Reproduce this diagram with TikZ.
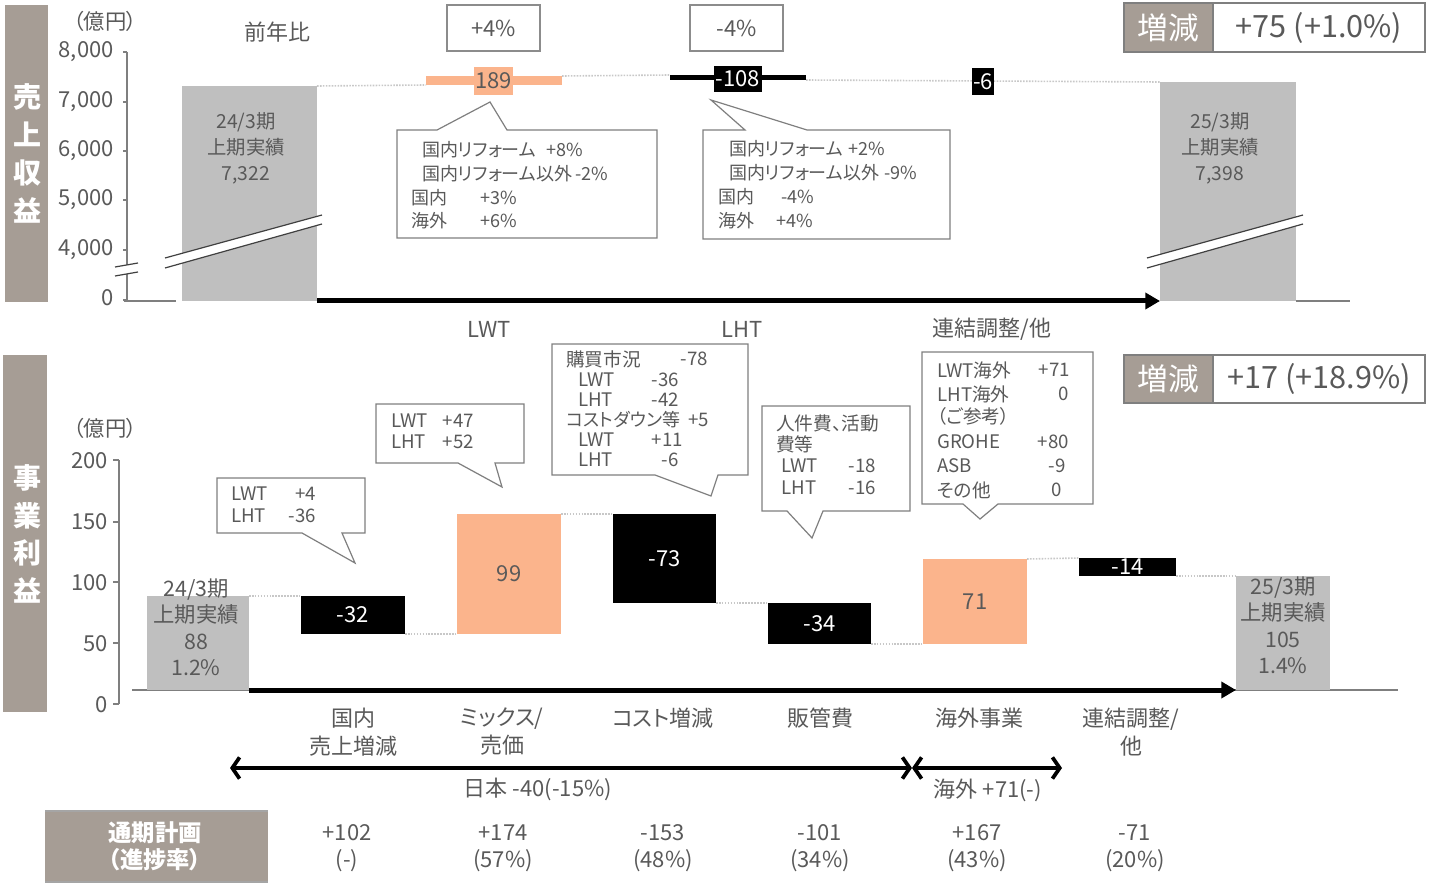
\documentclass[tikz,border=0pt]{standalone}
\usepackage{fontspec}
\setmainfont{Noto Sans CJK JP}[RawFeature={+palt}]
\usetikzlibrary{arrows.meta}
\definecolor{band}{HTML}{A69D95}
\definecolor{tg}{HTML}{595959}
\definecolor{salmon}{HTML}{FBB48C}
\definecolor{barg}{HTML}{BFBFBF}
\definecolor{lineg}{HTML}{7F7F7F}
\definecolor{dotg}{HTML}{C8C8C8}
\definecolor{brkc}{HTML}{404040}
\newcommand\fsz[1]{\fontsize{#1}{#1}\selectfont}
\tikzset{
  tx/.style={inner sep=0pt, text=tg, font=\fsz{16.5}},
  ct/.style={inner sep=0pt, text=tg, font=\fsz{13.5}, anchor=west},
  cb/.style={inner sep=0pt, text=tg, font=\fsz{14}},
  bx/.style n args={2}{minimum width={(#1)*0.75pt}, minimum height={(#2)*0.75pt}, inner sep=0pt, outer sep=0pt},
  bandtxt/.style={inner sep=0pt, text=white, align=center, font=\bfseries\fontsize{21}{28.3}\selectfont},
  axisl/.style={draw=lineg, line width=1.1pt},
  dotl/.style={draw=dotg, line width=1.2pt, densely dotted},
  brk/.style={draw=brkc, line width=0.9pt},
  call/.style={draw=lineg, fill=white, line width=0.9pt, line join=miter},
  bigarrow/.style={line width=3.75pt, -{Triangle[length=11pt,width=12pt]}},
  darrow/.style={line width=2.8pt, {Straight Barb[length=5.5pt,width=16pt]}-{Straight Barb[length=5.5pt,width=16pt]}},
  pbox/.style={draw=lineg!90, line width=1.2pt, bx={93}{46}, text=tg, font=\fsz{16.5}},
  barlbl/.style={inner sep=0pt, text=tg, align=center},
  val/.style={text=white, font=\fsz{16.5}},
}
\begin{document}
\begin{tikzpicture}[x=0.75pt,y=-0.75pt]
\useasboundingbox (0,0) rectangle (1435,884);

% ================= TOP PANEL =================
\fill[band] (5,5) rectangle (48,302);
\node[bandtxt] (bandA) at (27,153.5) {売\\上\\収\\益};
\node[tx, font=\fsz{16}] (unitA) at (105,21) {（億円）};
\node[tx] (yoy) at (277,32) {前年比};

% axis
\draw[axisl] (127,52) -- (127,301);
\foreach \yy in {52,102,151,200,250,300} \draw[axisl] (123,\yy) -- (127,\yy);
\node[tx, anchor=east] (ya8) at (114,52) {8,000};
\node[tx, anchor=east] (ya7) at (114,102) {7,000};
\node[tx, anchor=east] (ya6) at (114,151) {6,000};
\node[tx, anchor=east] (ya5) at (114,200) {5,000};
\node[tx, anchor=east] (ya4) at (114,250) {4,000};
\node[tx, anchor=east] (ya0) at (114,298) {0};
\draw[axisl] (124,301) -- (176,301);
\draw[axisl] (1296,301) -- (1350,301);
% axis break
\fill[white] (115,267) -- (138,263) -- (138,272) -- (115,276) -- cycle;
\draw[brk] (115,267) -- (138,263);
\draw[brk] (115,276) -- (138,272);

% bars
\node[bx={135}{215}, fill=barg] (t0) at (249.5,193.5) {};
\node[bx={136}{9}, fill=salmon] (t1) at (494,80.5) {};
\node[bx={136}{5}, fill=black] (t2) at (738,77.5) {};
\node[bx={136}{219}, fill=barg] (t4) at (1228,191.5) {};
\draw[dotl] (t0.north east) -- (t1.south west);
\draw[dotl] (t1.north east) -- (t2.north west);
\draw[dotl] (t2.south east) -- (t4.north west);
\node[bx={39}{28}, fill=salmon, text=tg, font=\fsz{16.5}] (t1l) at (493.5,81) {189};
\node[bx={48}{26}, fill=black, val] (t2l) at (738,79) {-108};
\node[bx={22}{27}, fill=black, val] (t3l) at (983,82) {-6};

\node[barlbl, font=\fontsize{14.5}{19.5}\selectfont] (t0l) at (246,148) {24/3期\\上期実績\\7,322};
\node[barlbl, font=\fontsize{14.5}{19.5}\selectfont] (t4l) at (1220,148) {25/3期\\上期実績\\7,398};

% break bands in bars
\fill[white] (165,258) -- (322,215) -- (322,224) -- (165,268) -- cycle;
\draw[brk] (165,258) -- (322,215);
\draw[brk] (165,268) -- (322,224);
\fill[white] (1147,258) -- (1303,215) -- (1303,224) -- (1147,268) -- cycle;
\draw[brk] (1147,258) -- (1303,215);
\draw[brk] (1147,268) -- (1303,224);

\draw[bigarrow] (t0.south east) -- (t4.south west);

% percent boxes
\node[pbox] (p1) at (493.5,28) {+4\%};
\node[pbox] (p2) at (736.5,28) {-4\%};

% increase box
\node[bx={89}{49}, fill=band, text=white, font=\fsz{23}] (zg1) at (1168.5,27.5) {増減};
\node[bx={212}{49}, draw=lineg, line width=0.9pt, text=tg, font=\fsz{23}] (zv1) at (1319,27.5) {+75 (+1.0\%)};
\draw[lineg, line width=0.9pt] (zg1.north west) rectangle (zv1.south east);

% callouts top
\draw[call] (397,130) -- (437,130) -- (490,102) -- (507,130) -- (657,130) -- (657,238) -- (397,238) -- cycle;
\node[ct] (c1a) at (422,150) {国内リフォーム};
\node[ct] (c1av) at (546,150) {+8\%};
\node[ct] (c1b) at (422,174) {国内リフォーム以外};
\node[ct] (c1bv) at (575,174) {-2\%};
\node[ct] (c1c) at (411,198) {国内};
\node[ct] (c1cv) at (480,198) {+3\%};
\node[ct] (c1d) at (411,221) {海外};
\node[ct] (c1dv) at (480,221) {+6\%};

\draw[call] (703,130) -- (745,130) -- (711,100) -- (807,130) -- (950,130) -- (950,239) -- (703,239) -- cycle;
\node[ct] (c2a) at (729,149) {国内リフォーム};
\node[ct] (c2av) at (848,149) {+2\%};
\node[ct] (c2b) at (729,173) {国内リフォーム以外};
\node[ct] (c2bv) at (884,173) {-9\%};
\node[ct] (c2c) at (718,197) {国内};
\node[ct] (c2cv) at (781,197) {-4\%};
\node[ct] (c2d) at (718,221) {海外};
\node[ct] (c2dv) at (776,221) {+4\%};

\node[tx] (segA) at (489,329) {LWT};
\node[tx] (segB) at (742,329) {LHT};
\node[tx] (segC) at (992,329) {連結調整/他};

% ================= BOTTOM PANEL =================
\fill[band] (3,355) rectangle (47,712);
\node[bandtxt] (bandB) at (27,534) {事\\業\\利\\益};
\node[tx, font=\fsz{16}] (unitB) at (105,428) {（億円）};

\node[bx={89}{48}, fill=band, text=white, font=\fsz{23}] (zg2) at (1168.5,379) {増減};
\node[bx={212}{48}, draw=lineg, line width=0.9pt, text=tg, font=\fsz{23}] (zv2) at (1319,379) {+17 (+18.9\%)};
\draw[lineg, line width=0.9pt] (zg2.north west) rectangle (zv2.south east);

\draw[axisl] (119,460) -- (119,704);
\foreach \yy in {460,522,582,643,704} \draw[axisl] (113,\yy) -- (119,\yy);
\node[tx, anchor=east] (yb200) at (108,461) {200};
\node[tx, anchor=east] (yb150) at (108,522) {150};
\node[tx, anchor=east] (yb100) at (108,583) {100};
\node[tx, anchor=east] (yb50) at (108,644) {50};
\node[tx, anchor=east] (yb0) at (108,705) {0};
\draw[axisl] (132,690) -- (1398,690);

\node[bx={102}{94}, fill=barg] (b0) at (198,643) {};
\node[bx={104}{38}, fill=black, val] (b1) at (353,615) {-32};
\node[bx={104}{120}, fill=salmon, text=tg, font=\fsz{16.5}] (b2) at (509,574) {99};
\node[bx={103}{89}, fill=black, val] (b3) at (664.5,558.5) {-73};
\node[bx={103}{41}, fill=black, val] (b4) at (819.5,623.5) {-34};
\node[bx={104}{85}, fill=salmon, text=tg, font=\fsz{16.5}] (b5) at (975,601.5) {71};
\node[bx={97}{18}, fill=black, val] (b6) at (1127.5,567) {-14};
\node[bx={94}{114}, fill=barg] (b7) at (1283,633) {};

\draw[dotl] (b0.north east) -- (b1.north west);
\draw[dotl] (b1.south east) -- (b2.south west);
\draw[dotl] (b2.north east) -- (b3.north west);
\draw[dotl] (b3.south east) -- (b4.north west);
\draw[dotl] (b4.south east) -- (b5.south west);
\draw[dotl] (b5.north east) -- (b6.north west);
\draw[dotl] (b6.south east) -- (b7.north west);

\node[barlbl, font=\fontsize{16}{19.8}\selectfont] (b0l) at (196,627.5) {24/3期\\上期実績\\88\\1.2\%};
\node[barlbl, font=\fontsize{16}{19.8}\selectfont] (b7l) at (1283,625.5) {25/3期\\上期実績\\105\\1.4\%};

\draw[bigarrow] (b0.south east) -- (b7.south west);

% callouts bottom
\draw[call] (217,478) -- (365,478) -- (365,533) -- (342,533) -- (355,563) -- (302,533) -- (217,533) -- cycle;
\node[cb, anchor=west] (d1a) at (231,494) {LWT};
\node[cb, anchor=east] (d1av) at (316,494) {+4};
\node[cb, anchor=west] (d1b) at (231,516) {LHT};
\node[cb, anchor=east] (d1bv) at (316,516) {-36};

\draw[call] (376,404) -- (524,404) -- (524,463) -- (495,463) -- (502,487) -- (458,463) -- (376,463) -- cycle;
\node[cb, anchor=west] (d2a) at (391,421) {LWT};
\node[cb, anchor=east] (d2av) at (474,421) {+47};
\node[cb, anchor=west] (d2b) at (391,442) {LHT};
\node[cb, anchor=east] (d2bv) at (474,442) {+52};

\draw[call] (552,344) -- (748,344) -- (748,475) -- (718,475) -- (711,496) -- (655,475) -- (552,475) -- cycle;
\node[cb, anchor=west] (d3a) at (566,359) {購買市況};
\node[cb, anchor=east] (d3av) at (708,359) {-78};
\node[cb, anchor=west] (d3b) at (578,380) {LWT};
\node[cb, anchor=east] (d3bv) at (679,380) {-36};
\node[cb, anchor=west] (d3c) at (578,400) {LHT};
\node[cb, anchor=east] (d3cv) at (679,400) {-42};
\node[cb, anchor=west, font=\fsz{13.5}] (d3d) at (566,420) {コストダウン等};
\node[cb, anchor=east] (d3dv) at (709,420) {+5};
\node[cb, anchor=west] (d3e) at (578,440) {LWT};
\node[cb, anchor=east] (d3ev) at (683,440) {+11};
\node[cb, anchor=west] (d3f) at (578,460) {LHT};
\node[cb, anchor=east] (d3fv) at (679,460) {-6};

\draw[call] (762,406) -- (910,406) -- (910,511) -- (823,511) -- (812,538) -- (787,511) -- (762,511) -- cycle;
\node[cb, anchor=west] (d4a) at (776,423) {人件費、活動};
\node[cb, anchor=west] (d4b) at (776,444) {費等};
\node[cb, anchor=west] (d4c) at (781,466) {LWT};
\node[cb, anchor=east] (d4cv) at (876,466) {-18};
\node[cb, anchor=west] (d4d) at (781,488) {LHT};
\node[cb, anchor=east] (d4dv) at (876,488) {-16};

\draw[call] (922,352) -- (1093,352) -- (1093,504) -- (998,504) -- (980,519) -- (963,504) -- (922,504) -- cycle;
\node[cb, anchor=west] (d5a) at (937,370) {LWT海外};
\node[cb, anchor=east] (d5av) at (1070,370) {+71};
\node[cb, anchor=west] (d5b) at (937,394) {LHT海外};
\node[cb, anchor=east] (d5bv) at (1069,394) {0};
\node[cb, anchor=west] (d5c) at (937,416) {（ご参考）};
\node[cb, anchor=west] (d5d) at (937,442) {GROHE};
\node[cb, anchor=east] (d5dv) at (1069,442) {+80};
\node[cb, anchor=west] (d5e) at (937,466) {ASB};
\node[cb, anchor=east] (d5ev) at (1066,466) {-9};
\node[cb, anchor=west] (d5f) at (937,490) {その他};
\node[cb, anchor=east] (d5fv) at (1062,490) {0};

% categories
\node[tx, align=center, font=\fontsize{16.5}{21}\selectfont] (k1) at (353,732) {国内\\売上増減};
\node[tx, align=center, font=\fontsize{16.5}{21}\selectfont] (k2) at (502,732) {ミックス/\\売価};
\node[tx] (k3) at (663,718) {コスト増減};
\node[tx] (k4) at (820,718) {販管費};
\node[tx] (k5) at (979,718) {海外事業};
\node[tx, align=center, font=\fontsize{16.5}{21}\selectfont] (k6) at (1131,732) {連結調整/\\他};

\coordinate (ja) at (230,768);
\coordinate (jb) at (912,768);
\coordinate (kb) at (1062,768);
\draw[darrow] (ja) -- (jb);
\draw[darrow] (jb) -- (kb);
\node[tx] (jp) at (538,789) {日本 -40(-15\%)};
\node[tx] (ov) at (988,790) {海外 +71(-)};

% plan table
\fill[band] (45,811) rectangle (268,882);
\draw[lineg!70, line width=0.9pt] (45,811) -- (268,811);
\draw[lineg!70, line width=0.9pt] (45,882) -- (268,882);
\node[bandtxt, font=\bfseries\fontsize{17.5}{20.5}\selectfont] (plan) at (155,846) {通期計画\\（進捗率）};
\node[tx] (v1a) at (347,833) {+102};
\node[tx] (v1b) at (347,861) {(-)};
\node[tx] (v2a) at (503,833) {+174};
\node[tx] (v2b) at (503,861) {(57\%)};
\node[tx] (v3a) at (663,833) {-153};
\node[tx] (v3b) at (663,861) {(48\%)};
\node[tx] (v4a) at (820,833) {-101};
\node[tx] (v4b) at (820,861) {(34\%)};
\node[tx] (v5a) at (977,833) {+167};
\node[tx] (v5b) at (977,861) {(43\%)};
\node[tx] (v6a) at (1135,833) {-71};
\node[tx] (v6b) at (1135,861) {(20\%)};
\end{tikzpicture}
\end{document}
